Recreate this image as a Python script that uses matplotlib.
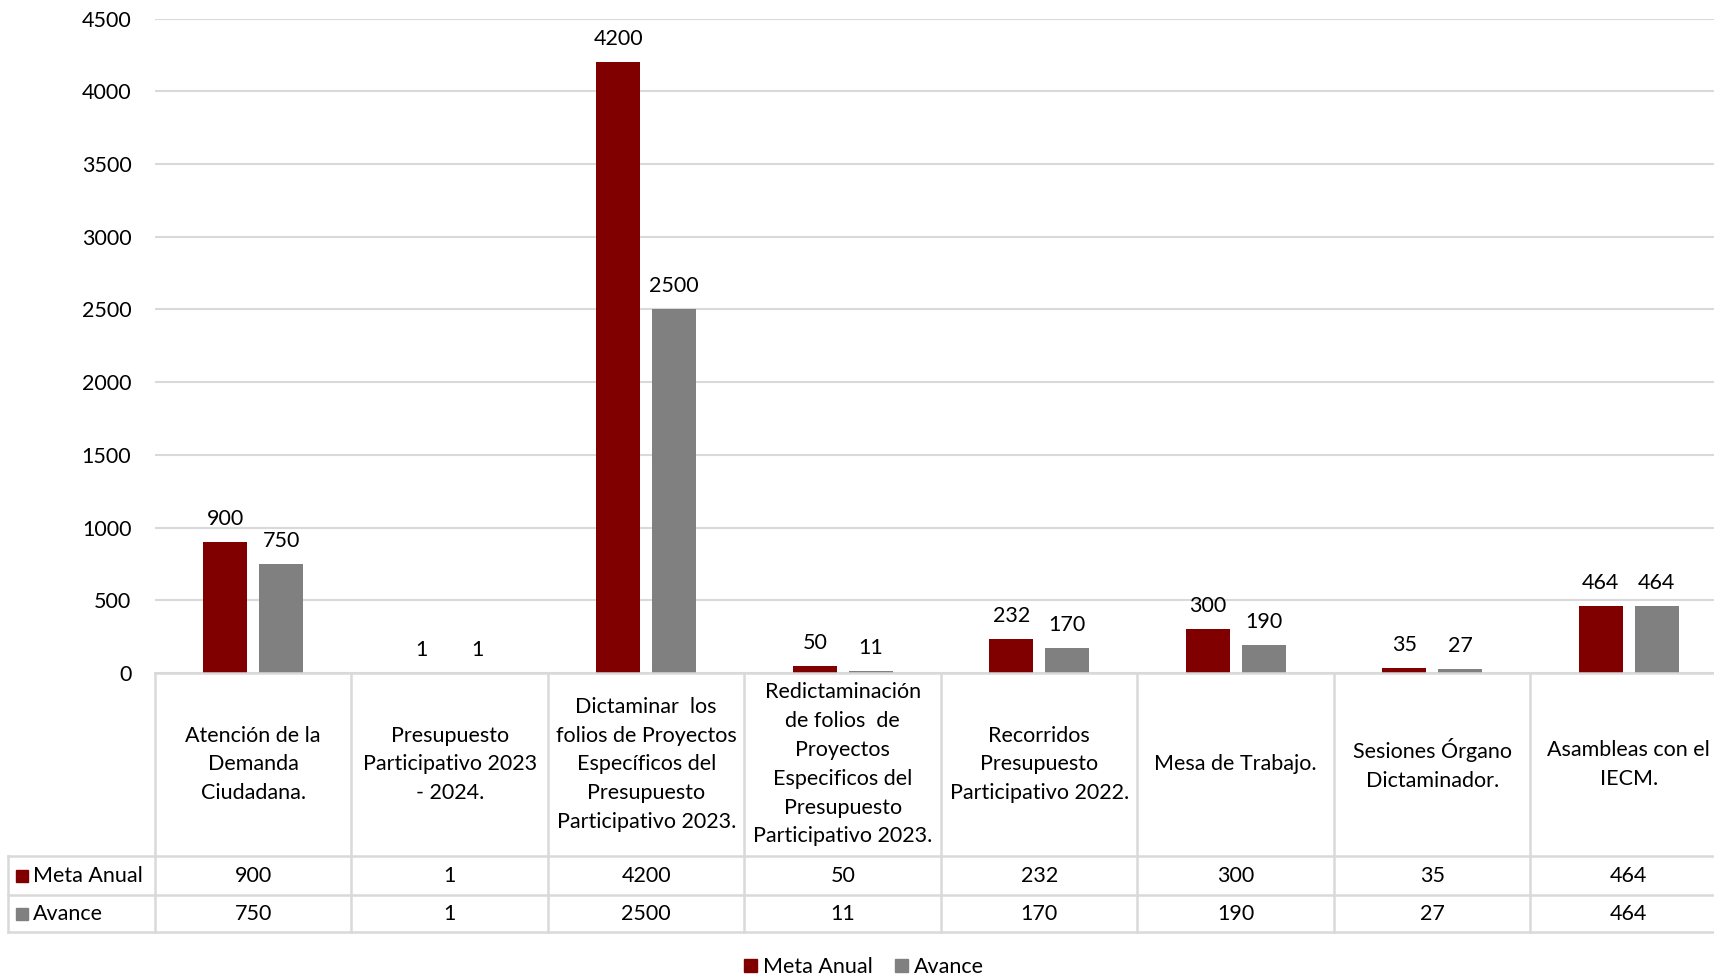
import matplotlib
matplotlib.use("Agg")
import matplotlib.pyplot as plt
from matplotlib.patches import Patch

plt.rcParams['font.family'] = ['Lato', 'DejaVu Sans']

categories = [
    "Atención de la\nDemanda\nCiudadana.",
    "Presupuesto\nParticipativo 2023\n- 2024.",
    "Dictaminar  los\nfolios de Proyectos\nEspecíficos del\nPresupuesto\nParticipativo 2023.",
    "Redictaminación\nde folios  de\nProyectos\nEspecificos del\nPresupuesto\nParticipativo 2023.",
    "Recorridos\nPresupuesto\nParticipativo 2022.",
    "Mesa de Trabajo.",
    "Sesiones Órgano\nDictaminador.",
    "Asambleas con el\nIECM.",
]
meta_anual = [900, 1, 4200, 50, 232, 300, 35, 464]
avance = [750, 1, 2500, 11, 170, 190, 27, 464]
series_names = ["Meta Anual", "Avance"]
yticks = [0, 500, 1000, 1500, 2000, 2500, 3000, 3500, 4000, 4500]

RED = "#800000"
GRAY = "#808080"
LINE = "#D9D9D9"
FS = 15.5

W, H = 1715, 977
fig = plt.figure(figsize=(W / 100, H / 100), dpi=100)

# pixel layout
x_left = 155
cat_w = 196.5
x_right = x_left + 8 * cat_w
y_zero = 673
y_top = 18.6

def fx(px):
    return px / W

def fy(py):
    return 1 - py / H

ax = fig.add_axes([fx(x_left), fy(y_zero), fx(x_right - x_left), (y_zero - y_top) / H])
n = len(categories)
xs = list(range(n))
bw = 0.223
off = 0.142
b1 = ax.bar([x - off for x in xs], meta_anual, bw, color=RED, zorder=3)
b2 = ax.bar([x + off for x in xs], avance, bw, color=GRAY, zorder=3)
for bars, vals in ((b1, meta_anual), (b2, avance)):
    for rect, v in zip(bars, vals):
        ax.annotate(str(v), (rect.get_x() + rect.get_width() / 2, rect.get_height()),
                    xytext=(0, 13), textcoords="offset pixels",
                    ha="center", va="bottom", fontsize=FS, color="#000000")

ax.set_xlim(-0.5, n - 0.5)
ax.set_ylim(0, 4500)
ax.set_yticks(yticks)
ax.set_yticklabels([str(t) for t in yticks], fontsize=FS)
ax.tick_params(axis="y", length=0, pad=17)
ax.tick_params(axis="x", length=0, labelbottom=False)
ax.grid(axis="y", color=LINE, linewidth=1.5, zorder=0)
for s in ax.spines.values():
    s.set_visible(False)

# data table below the plot
x_tab = 8
y_bot = 932
tax = fig.add_axes([fx(x_tab), fy(y_bot), fx(x_right - x_tab), (y_bot - y_zero) / H])
lab_w = (x_left - x_tab) / cat_w
tax.set_xlim(-0.5 - lab_w, n - 0.5)
tax.set_ylim(y_bot - y_zero, 0)
tax.axis("off")
h_head = 856 - y_zero
h_r1 = 895 - y_zero
h_r2 = y_bot - y_zero
lw = 1.8
tax.plot([-0.5, n - 0.5], [0, 0], color=LINE, lw=lw, clip_on=False)
for yy in (h_head, h_r1, h_r2):
    tax.plot([-0.5 - lab_w, n - 0.5], [yy, yy], color=LINE, lw=lw, clip_on=False)
for i in range(n + 1):
    tax.plot([i - 0.5, i - 0.5], [0, h_r2], color=LINE, lw=lw, clip_on=False)
tax.plot([-0.5 - lab_w, -0.5 - lab_w], [h_head, h_r2], color=LINE, lw=lw, clip_on=False)

for i, c in enumerate(categories):
    tax.text(i, h_head / 2, c, ha="center", va="center", fontsize=FS,
             linespacing=1.55, clip_on=False)
    tax.text(i, (h_head + h_r1) / 2, str(meta_anual[i]), ha="center", va="center", fontsize=FS)
    tax.text(i, (h_r1 + h_r2) / 2, str(avance[i]), ha="center", va="center", fontsize=FS)

for (y0, y1), name, col in (((h_head, h_r1), series_names[0], RED),
                            ((h_r1, h_r2), series_names[1], GRAY)):
    ym = (y0 + y1) / 2
    tax.plot([-0.5 - lab_w + 0.07], [ym], marker="s", markersize=8, color=col, clip_on=False)
    tax.text(-0.5 - lab_w + 0.128, ym, name, ha="left", va="center", fontsize=FS)

handles = [Patch(color=RED, label=series_names[0]), Patch(color=GRAY, label=series_names[1])]
fig.legend(handles=handles, loc="center", bbox_to_anchor=(fx(864), fy(967)), ncol=2,
           frameon=False, fontsize=FS, handlelength=0.6, handleheight=0.6,
           handletextpad=0.3, columnspacing=1.0)

fig.savefig("out.png", dpi=100)
